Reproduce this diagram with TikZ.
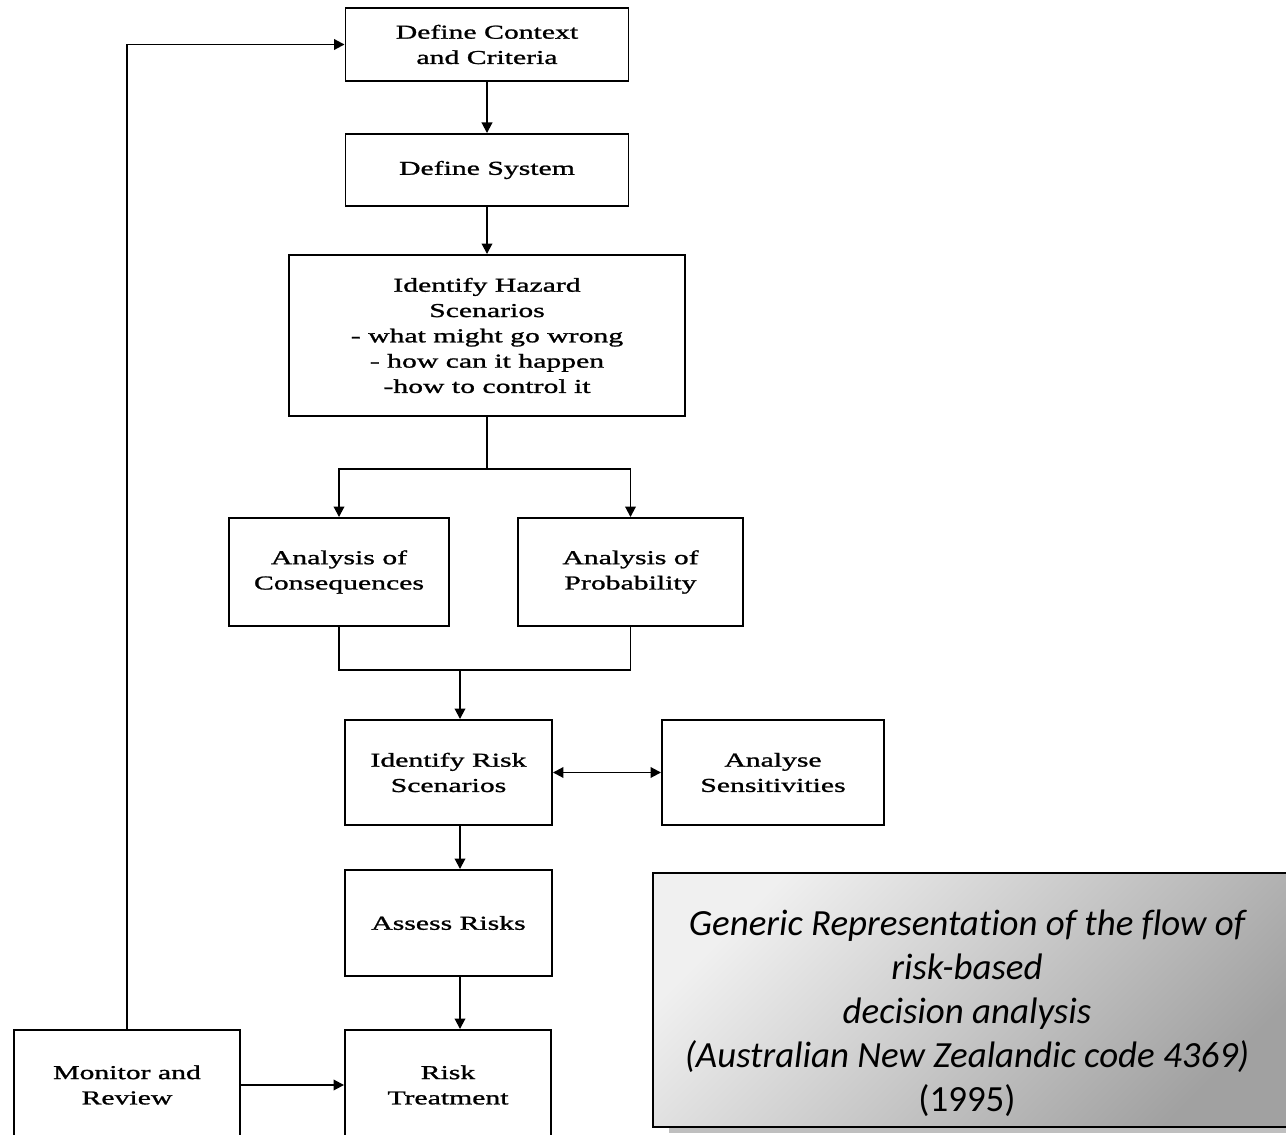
\documentclass[tikz,border=0pt]{standalone}
\usepackage{fontspec}
\setmainfont[FakeStretch=1.51, FakeBold=1.2]{Liberation Serif}
\newfontfamily\capfont[Ligatures=NoCommon]{Carlito}
\usepackage{tikz}
\usetikzlibrary{arrows.meta, positioning}

\tikzset{
  stepbox/.style={draw, line width=1.1pt, align=center, inner sep=0pt,
                  font=\fontsize{11.2}{14.4}\selectfont},
  link/.style={line width=1.1pt},
  flow/.style={line width=1.1pt, -{Triangle[length=6pt,width=6pt]}},
  twoway/.style={line width=1.1pt, {Triangle[length=6pt,width=6pt]}-{Triangle[length=6pt,width=6pt]}},
}

\begin{document}
\begin{tikzpicture}[x=0.02cm, y=-0.02cm]

\useasboundingbox (0,0) rectangle (1286,1135);
\clip (0,0) rectangle (1286,1135);

% === Main chain ===
\node[stepbox, minimum width=5.66cm, minimum height=1.46cm] (ctx) at (487,44.5)
     {Define Context\\and Criteria};
\node[stepbox, minimum width=5.66cm, minimum height=1.44cm] (sys) at (487,170)
     {Define System};
\node[stepbox, minimum width=7.92cm, minimum height=3.22cm] (haz) at (487,335.5)
     {Identify Hazard\\Scenarios\\- what might go wrong\\- how can it happen\\-how to control it};

% === Two analyses ===
\node[stepbox, minimum width=4.40cm, minimum height=2.16cm] (cons) at (339,572)
     {Analysis of\\Consequences};
\node[stepbox, minimum width=4.50cm, minimum height=2.16cm] (prob) at (630.5,572)
     {Analysis of\\Probability};

% === Risk part ===
\node[stepbox, minimum width=4.14cm, minimum height=2.10cm] (risk) at (448.5,772.5)
     {Identify Risk\\Scenarios};
\node[stepbox, minimum width=4.44cm, minimum height=2.10cm] (sens) at (773,772.5)
     {Analyse\\Sensitivities};
\node[stepbox, minimum width=4.14cm, minimum height=2.12cm] (assess) at (448.5,923)
     {Assess Risks};
\node[stepbox, minimum width=4.12cm, minimum height=2.20cm] (treat) at (448,1085)
     {Risk\\Treatment};
\node[stepbox, minimum width=4.52cm, minimum height=2.20cm] (monitor) at (127,1085)
     {Monitor and\\Review};

% === Connectors ===
\coordinate (split) at (487,469);
\coordinate (join) at (460,670);

\draw[flow] (ctx) -- (sys);
\draw[flow] (sys) -- (haz);
\draw[link] (haz.south) -- (split);
\draw[flow] (split) -| (cons.north);
\draw[flow] (split) -| (prob.north);

\draw[link] (cons.south) |- (join);
\draw[link] (prob.south) |- (join);
\draw[flow] (join) -- (join |- risk.north);

\draw[twoway] (risk.east) -- (sens.west);
\draw[flow] (join |- risk.south) -- (join |- assess.north);
\draw[flow] (join |- assess.south) -- (join |- treat.north);
\draw[flow] (monitor.east) -- (treat.west);
\draw[flow] (monitor.north) |- (ctx.west);

% === Caption box ===
\fill[black!25] (669,879) rectangle (1300,1133);
\shade[top color=black!6, bottom color=black!37, shading angle=45] (653,873) rectangle (1300,1127);
\draw[line width=1pt] (653,873) rectangle (1300,1127);
\node[font=\capfont\itshape\fontsize{21}{25}\selectfont, align=center] (caption) at (967,1013)
     {Generic Representation of the flow of\\risk-based\\decision analysis\\(Australian New Zealandic code 4369)\\\textup{(1995)}};

\end{tikzpicture}
\end{document}
